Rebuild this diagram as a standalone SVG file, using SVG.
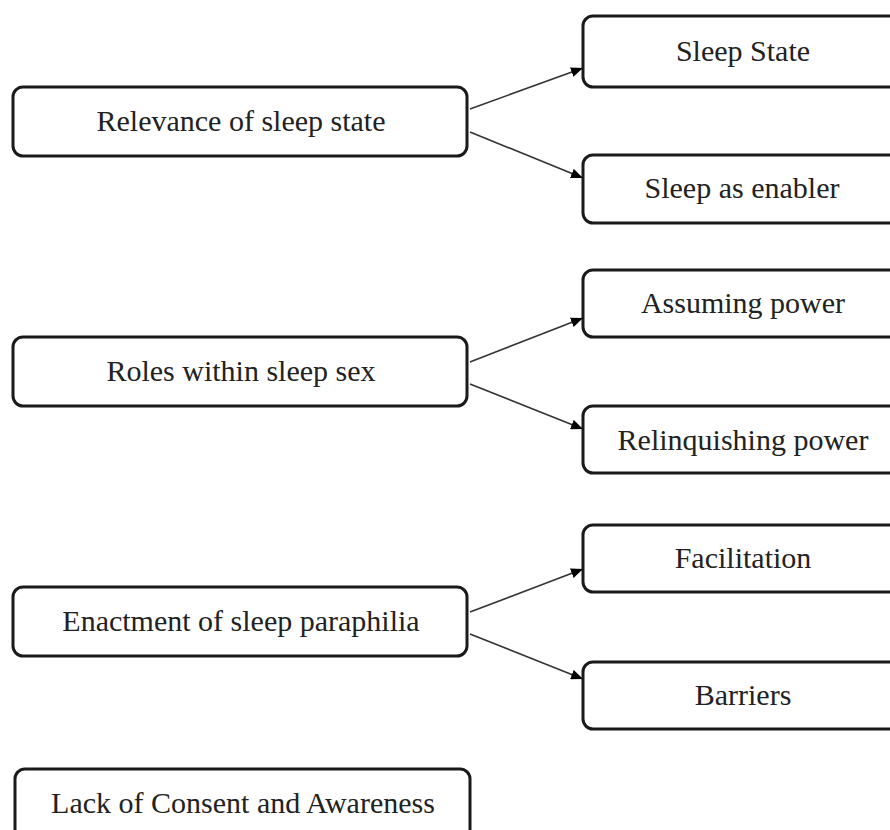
<svg xmlns="http://www.w3.org/2000/svg" width="890" height="830" viewBox="0 0 890 830">
<style>
.box{fill:#fff;stroke:#1a1a1a;stroke-width:3}
.lbl{font-family:'Liberation Serif','Times New Roman',Tinos,'DejaVu Serif',serif;font-size:30px;fill:#222;text-anchor:middle}
.con{stroke:#333;stroke-width:1.6;fill:none;marker-end:url(#ah)}
</style>
<defs>
<marker id="ah" viewBox="0 0 12 10" refX="12" refY="5" markerWidth="12" markerHeight="10" markerUnits="userSpaceOnUse" orient="auto">
<path d="M0,0 L12,5 L0,10 z" fill="#000"/>
</marker>
</defs>
<rect width="890" height="830" fill="#fff"/>
<g id="connectors">
<line class="con" x1="470" y1="109" x2="583" y2="68"/>
<line class="con" x1="470" y1="132" x2="583" y2="178"/>
<line class="con" x1="470" y1="362" x2="583" y2="318"/>
<line class="con" x1="470" y1="384" x2="583" y2="429"/>
<line class="con" x1="470" y1="612" x2="583" y2="569"/>
<line class="con" x1="470" y1="634" x2="583" y2="679"/>
</g>
<g id="relevance">
<rect class="box" x="13" y="87" width="454" height="69" rx="10"/>
<text class="lbl" x="241" y="131" font-family="Liberation Serif, serif">Relevance of sleep state</text>
</g>
<g id="sleep-state">
<rect class="box" x="583" y="16" width="330" height="71" rx="10"/>
<text class="lbl" x="743" y="61">Sleep State</text>
</g>
<g id="sleep-enabler">
<rect class="box" x="583" y="155" width="330" height="68" rx="10"/>
<text class="lbl" x="742" y="198">Sleep as enabler</text>
</g>
<g id="roles">
<rect class="box" x="13" y="337" width="454" height="69" rx="10"/>
<text class="lbl" x="241" y="381">Roles within sleep sex</text>
</g>
<g id="assuming">
<rect class="box" x="583" y="270" width="330" height="67" rx="10"/>
<text class="lbl" x="743" y="313">Assuming power</text>
</g>
<g id="relinquishing">
<rect class="box" x="583" y="406" width="330" height="67" rx="10"/>
<text class="lbl" x="743" y="450">Relinquishing power</text>
</g>
<g id="enactment">
<rect class="box" x="13" y="587" width="454" height="69" rx="10"/>
<text class="lbl" x="241" y="631">Enactment of sleep paraphilia</text>
</g>
<g id="facilitation">
<rect class="box" x="583" y="525" width="330" height="67" rx="10"/>
<text class="lbl" x="743" y="568">Facilitation</text>
</g>
<g id="barriers">
<rect class="box" x="583" y="662" width="330" height="67" rx="10"/>
<text class="lbl" x="743" y="705">Barriers</text>
</g>
<g id="lack">
<rect class="box" x="15" y="769" width="455" height="80" rx="10"/>
<text class="lbl" x="243" y="813">Lack of Consent and Awareness</text>
</g>
</svg>
